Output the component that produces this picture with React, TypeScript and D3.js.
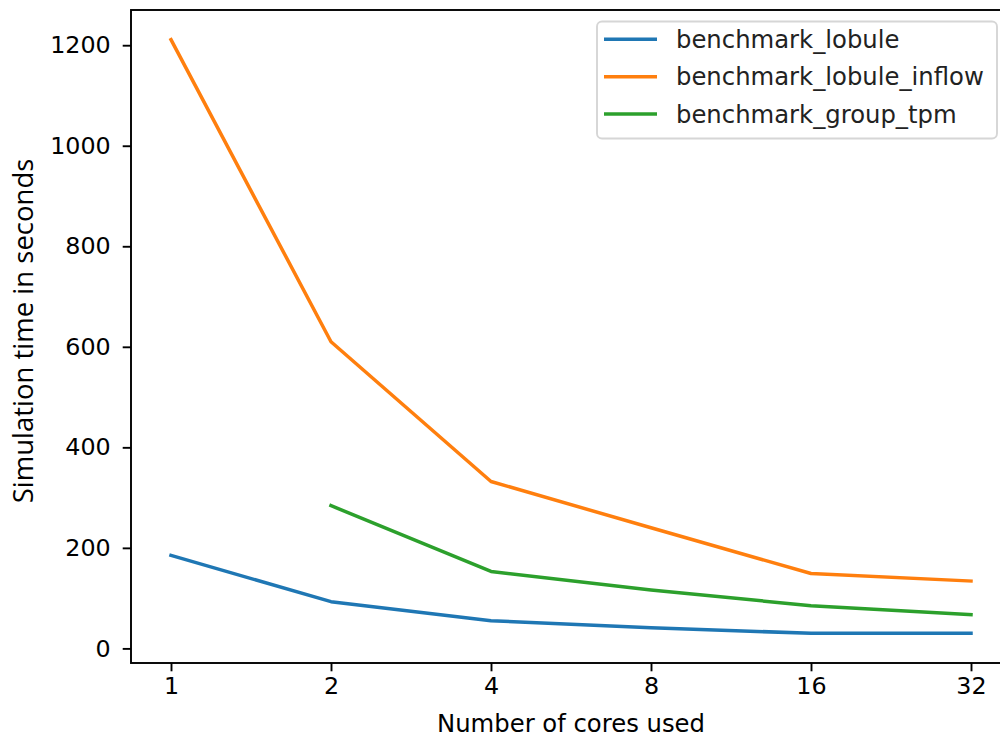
import React, { useRef, useEffect } from 'react';
import * as d3 from 'd3';

// cores used (x axis, log2)
const cores = [1, 2, 4, 8, 16, 32];

// simulation time in seconds, per benchmark
const lobule = [185, 93, 55, 41, 30, 30];
const lobuleInflow = [1211, 610, 332, 240, 149, 134];
const groupTpm = [null, 284, 153, 116, 85, 67];

const seriesNames = ['benchmark_lobule', 'benchmark_lobule_inflow', 'benchmark_group_tpm'];
const seriesColors = ['#1f77b4', '#ff7f0e', '#2ca02c'];

const yTicks = [0, 200, 400, 600, 800, 1000, 1200];

const App = () => {
    const svgRef = useRef<SVGSVGElement>(null);

    useEffect(() => {
        document.body.style.margin = '0';
        const svg = d3.select(svgRef.current);
        svg.selectAll('*').remove();

        const width = 1000;
        const height = 737;
        const left = 131;
        const right = 1011;
        const top = 10;
        const bottom = 663;
        const font = 'DejaVu Sans, sans-serif';
        const fs = 23.8;
        const fsLabel = 24.3;

        const allSeries = [lobule, lobuleInflow, groupTpm];

        // matplotlib-like 5% margins
        const x = d3.scaleLog().base(2)
            .domain([Math.pow(2, -0.25), Math.pow(2, 5.25)])
            .range([left, right]);

        const vals = allSeries.flat().filter(v => v != null) as number[];
        const [yMin, yMax] = d3.extent(vals) as [number, number];
        const pad = (yMax - yMin) * 0.05;
        const y = d3.scaleLinear()
            .domain([yMin - pad, yMax + pad])
            .range([bottom, top]);

        svg.attr('width', width).attr('height', height)
            .style('display', 'block')
            .style('background', '#fff');

        // lines
        const line = d3.line<any>()
            .defined(d => d.v != null)
            .x(d => x(d.c))
            .y(d => y(d.v));

        allSeries.forEach((s, i) => {
            svg.append('path')
                .datum(cores.map((c, j) => ({ c, v: s[j] })))
                .attr('fill', 'none')
                .attr('stroke', seriesColors[i])
                .attr('stroke-width', 3.5)
                .attr('stroke-linejoin', 'round')
                .attr('stroke-linecap', 'square')
                .attr('d', line);
        });

        // axes
        const xAxis = svg.append('g')
            .attr('transform', `translate(0,${bottom})`)
            .call(d3.axisBottom(x).tickValues(cores).tickFormat(d3.format('d')).tickSize(8.3).tickPadding(6).tickSizeOuter(0));
        xAxis.select('.domain').remove();
        xAxis.selectAll('line').attr('stroke', '#000').attr('stroke-width', 1.9);
        xAxis.selectAll('text')
            .attr('font-family', font).attr('font-size', fs).attr('fill', '#000');

        const yAxis = svg.append('g')
            .attr('transform', `translate(${left},0)`)
            .call(d3.axisLeft(y).tickValues(yTicks).tickFormat(d3.format('d')).tickSize(8.3).tickPadding(12).tickSizeOuter(0));
        yAxis.select('.domain').remove();
        yAxis.selectAll('line').attr('stroke', '#000').attr('stroke-width', 1.9);
        yAxis.selectAll('text')
            .attr('font-family', font).attr('font-size', fs).attr('fill', '#000');

        // spines
        svg.append('rect')
            .attr('x', left).attr('y', top)
            .attr('width', right - left).attr('height', bottom - top)
            .attr('fill', 'none').attr('stroke', '#000').attr('stroke-width', 1.9);

        // axis labels
        svg.append('text')
            .attr('x', 571)
            .attr('y', 732)
            .attr('text-anchor', 'middle')
            .attr('font-family', font).attr('font-size', fsLabel)
            .text('Number of cores used');

        svg.append('text')
            .attr('transform', `translate(32.5,331) rotate(-90)`)
            .attr('text-anchor', 'middle')
            .attr('font-family', '"Open Sans", "Noto Sans", sans-serif').attr('font-size', 27.5)
            .text('Simulation time in seconds');

        // legend
        const lg = svg.append('g');
        lg.append('rect')
            .attr('x', 597).attr('y', 21.5)
            .attr('width', 400).attr('height', 117)
            .attr('rx', 5)
            .attr('fill', '#fff').attr('fill-opacity', 0.8)
            .attr('stroke', '#d6d6d6').attr('stroke-width', 1.9);

        seriesNames.forEach((name, i) => {
            const ly = 39.3 + i * 37.4;
            lg.append('line')
                .attr('x1', 604).attr('x2', 657)
                .attr('y1', ly).attr('y2', ly)
                .attr('stroke', seriesColors[i]).attr('stroke-width', 3.5);
            lg.append('text')
                .attr('x', 676).attr('y', ly + 8.5)
                .attr('font-family', font).attr('font-size', fsLabel).attr('fill', '#222')
                .text(name);
        });
    }, []);

    return <svg ref={svgRef}></svg>;
};

export default App;
